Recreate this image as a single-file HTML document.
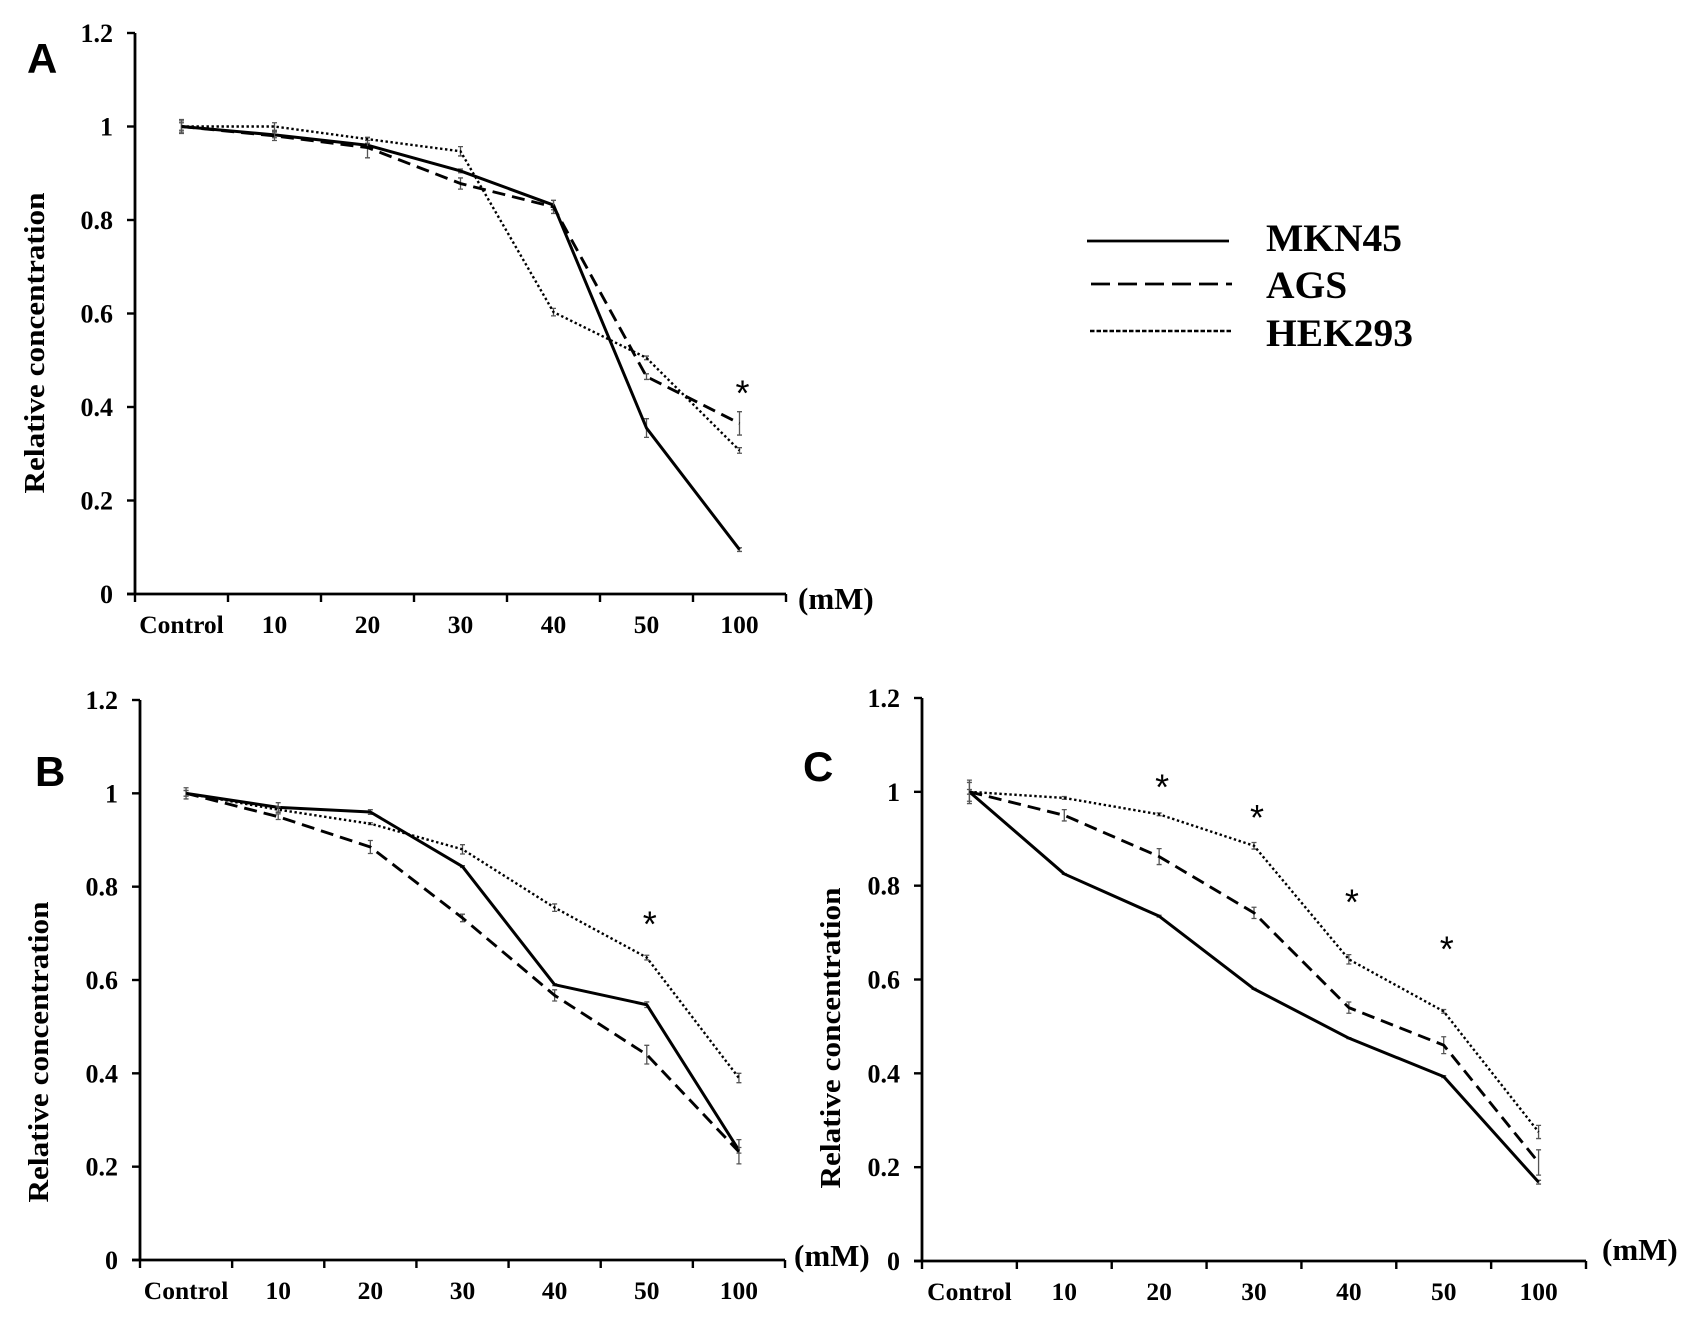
<!DOCTYPE html>
<html lang="en">
<head>
<meta charset="utf-8">
<title>Relative concentration by cell line</title>
<style>
html,body{margin:0;padding:0;background:#fff;}
svg{display:block;}
text{font-family:"Liberation Serif",serif;font-weight:bold;fill:#000;}
.panel-letter{font-family:"Liberation Sans",sans-serif;font-size:42px;}
.legend-label{font-size:39.5px;}
</style>
</head>
<body>
<svg id="figure" width="1701" height="1326" viewBox="0 0 1701 1326" xmlns="http://www.w3.org/2000/svg">
  <rect x="0" y="0" width="1701" height="1326" fill="#fff"/>
  <text class="panel-letter" x="27" y="73">A</text>
  <text class="panel-letter" x="35" y="786">B</text>
  <text class="panel-letter" x="803" y="781">C</text>
  <g>
    <line x1="1087" y1="241" x2="1229" y2="241" stroke="#000" stroke-width="2.8"/>
    <text class="legend-label" x="1266" y="251">MKN45</text>
    <line x1="1091" y1="284" x2="1232" y2="284" stroke="#000" stroke-width="2.8" stroke-dasharray="19 8"/>
    <text class="legend-label" x="1266" y="298">AGS</text>
    <line x1="1090" y1="331" x2="1232" y2="331" stroke="#000" stroke-width="2.4" stroke-dasharray="4.5 2"/>
    <text class="legend-label" x="1266" y="346">HEK293</text>
  </g>
</svg>
<script>
const categories = ['Control', '10', '20', '30', '40', '50', '100'];
const yTickValues = [0, 0.2, 0.4, 0.6, 0.8, 1, 1.2];
const yTickLabels = ['0', '0.2', '0.4', '0.6', '0.8', '1', '1.2'];

const aMkn45 = [1, 0.982, 0.96, 0.905, 0.832, 0.355, 0.095];
const aAgs = [1, 0.98, 0.955, 0.878, 0.828, 0.465, 0.365];
const aHek293 = [1, 1, 0.973, 0.947, 0.603, 0.505, 0.307];
const aMkn45Err = [0.008, 0.006, 0.004, 0.004, 0.01, 0.02, 0.004];
const aAgsErr = [0.012, 0.01, 0.022, 0.012, 0.014, 0.006, 0.025];
const aHek293Err = [0.015, 0.008, 0.003, 0.01, 0.008, 0.004, 0.006];
const aStars = [null, null, null, null, null, null, 0.44];

const bMkn45 = [1, 0.97, 0.96, 0.843, 0.59, 0.547, 0.235];
const bAgs = [1, 0.95, 0.885, 0.733, 0.567, 0.44, 0.232];
const bHek293 = [1, 0.965, 0.935, 0.88, 0.755, 0.648, 0.39];
const bMkn45Err = [0.006, 0.01, 0.005, 0.002, 0.002, 0.006, 0.006];
const bAgsErr = [0.006, 0.006, 0.014, 0.008, 0.012, 0.02, 0.026];
const bHek293Err = [0.012, 0.006, 0.002, 0.01, 0.008, 0.005, 0.01];
const bStars = [null, null, null, null, null, 0.73, null];

const cMkn45 = [1, 0.825, 0.735, 0.58, 0.475, 0.393, 0.168];
const cAgs = [1, 0.95, 0.862, 0.742, 0.54, 0.46, 0.21];
const cHek293 = [1, 0.987, 0.952, 0.885, 0.643, 0.532, 0.275];
const cMkn45Err = [0.005, 0.001, 0.002, 0.001, 0.001, 0.002, 0.004];
const cAgsErr = [0.02, 0.012, 0.017, 0.012, 0.012, 0.018, 0.027];
const cHek293Err = [0.025, 0.003, 0.003, 0.007, 0.01, 0.004, 0.014];
const cStars = [null, null, 1.02, 0.955, 0.775, 0.675, null];

const panels = [
  { id: 'a', left: 135, right: 786, top: 33, zero: 594, titleX: 34, titleY: 343,
    unitX: 798, unitY: 609,
    mkn: aMkn45, ags: aAgs, hek: aHek293, mknErr: aMkn45Err, agsErr: aAgsErr, hekErr: aHek293Err, stars: aStars },
  { id: 'b', left: 140, right: 785, top: 700, zero: 1260, titleX: 38, titleY: 1052,
    unitX: 794, unitY: 1266,
    mkn: bMkn45, ags: bAgs, hek: bHek293, mknErr: bMkn45Err, agsErr: bAgsErr, hekErr: bHek293Err, stars: bStars },
  { id: 'c', left: 922, right: 1586, top: 698, zero: 1261, titleX: 830, titleY: 1038,
    unitX: 1602, unitY: 1260,
    mkn: cMkn45, ags: cAgs, hek: cHek293, mknErr: cMkn45Err, agsErr: cAgsErr, hekErr: cHek293Err, stars: cStars }
];

const svgNs = 'http://www.w3.org/2000/svg';
const figure = document.getElementById('figure');

function make(parent, tag, attrs, content) {
  const node = document.createElementNS(svgNs, tag);
  Object.keys(attrs).forEach(function (k) { node.setAttribute(k, attrs[k]); });
  if (content !== undefined) node.textContent = content;
  parent.appendChild(node);
  return node;
}

function drawPanel(p) {
  const yScale = function (v) { return p.zero - (v / 1.2) * (p.zero - p.top); };
  const band = (p.right - p.left) / categories.length;
  const xScale = function (i) { return p.left + band * (i + 0.5); };

  const group = make(figure, 'g', {});
  
  

  const yAxis = make(group, 'line', { x1: p.left, y1: p.top, x2: p.left, y2: p.zero, stroke: '#000', 'stroke-width': 2.8 });
  
  

  const xAxis = make(group, 'line', { x1: p.left - 8, y1: p.zero, x2: p.right, y2: p.zero, stroke: '#000', 'stroke-width': 2.8 });
  
  

  yTickValues.forEach(function (v, i) {
    const y = yScale(v);
    const tick = make(group, 'line', { x1: p.left - 8, y1: y, x2: p.left, y2: y, stroke: '#000', 'stroke-width': 2.4 });
    
    
    const label = make(group, 'text', { x: p.left - 22, y: y + 9, 'text-anchor': 'end', 'font-size': 26 }, yTickLabels[i]);
    
    
  });

  for (let i = 0; i <= categories.length; i++) {
    const x = p.left + band * i;
    const tick = make(group, 'line', { x1: x, y1: p.zero, x2: x, y2: p.zero + 8, stroke: '#000', 'stroke-width': 2.4 });
    
    
  }

  categories.forEach(function (c, i) {
    const label = make(group, 'text', { x: xScale(i), y: p.zero + 39, 'text-anchor': 'middle', 'font-size': 25.5 }, c);
    
    
  });

  const title = make(group, 'text', {
    x: 0, y: 0, 'text-anchor': 'middle', 'font-size': 29,
    textLength: 301, lengthAdjust: 'spacingAndGlyphs',
    transform: 'translate(' + (p.titleX + 10) + ',' + p.titleY + ') rotate(-90)'
  }, 'Relative concentration');
  
  

  const unit = make(group, 'text', { x: p.unitX, y: p.unitY, 'font-size': 31 }, '(mM)');
  
  

  const seriesList = [
    { key: 'mkn45', values: p.mkn, errs: p.mknErr, dash: 'none', width: 3 },
    { key: 'ags', values: p.ags, errs: p.agsErr, dash: '13 7', width: 2.9 },
    { key: 'hek293', values: p.hek, errs: p.hekErr, dash: '2.4 2.6', width: 2.4 }
  ];

  seriesList.forEach(function (s) {
    s.errs.forEach(function (e, i) {
      const x = xScale(i);
      const y1 = yScale(s.values[i] - e);
      const y2 = yScale(s.values[i] + e);
      const d = 'M' + x + ' ' + y1 + 'V' + y2 + 'M' + (x - 2.5) + ' ' + y1 + 'H' + (x + 2.5) + 'M' + (x - 2.5) + ' ' + y2 + 'H' + (x + 2.5);
      const bar = make(group, 'path', { d: d, fill: 'none', stroke: '#555', 'stroke-width': 1.3 });
      
      
    });
    const pts = s.values.map(function (v, i) { return xScale(i) + ',' + yScale(v); }).join(' ');
    const line = make(group, 'polyline', { points: pts, fill: 'none', stroke: '#000', 'stroke-width': s.width, 'stroke-linejoin': 'round', 'stroke-dasharray': s.dash });
    
    
  });

  p.stars.forEach(function (v, i) {
    if (v === null) return;
    const star = make(group, 'text', { x: xScale(i) + 3, y: yScale(v) + 17, 'text-anchor': 'middle', 'font-size': 36, style: 'font-family:"Liberation Sans",sans-serif;font-weight:normal' }, '*');
    
    
  });
}

panels.forEach(drawPanel);
</script>
</body>
</html>
